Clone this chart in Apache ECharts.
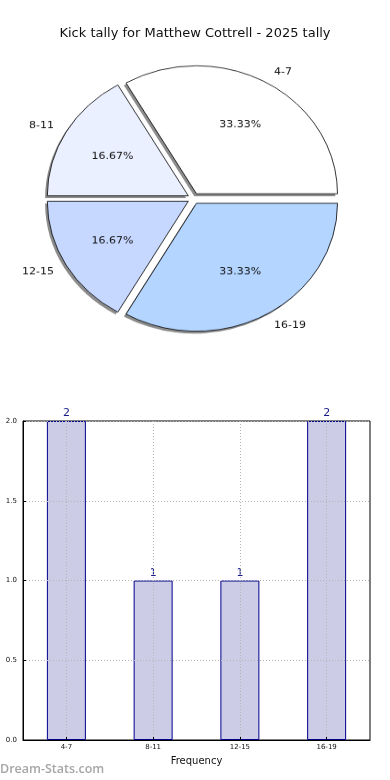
<!DOCTYPE html>
<html><head><meta charset="utf-8">
<script src="https://cdn.jsdelivr.net/npm/echarts@6/dist/echarts.min.js"></script>
<style>
html,body{margin:0;padding:0;background:#fff;}
#wrap{position:relative;width:390px;height:780px;}
#bar{position:absolute;left:0;top:0;width:390px;height:780px;}
#pie{position:absolute;left:0;top:0;width:390px;height:400px;transform-origin:193.5px 198.5px;transform:scaleY(0.908);}
</style>
</head><body>
<div id="wrap"><div id="bar"></div><div id="pie"></div></div>
<script>
const titleText = 'Kick tally for Matthew Cottrell - 2025 tally';
const categories = ['4-7', '8-11', '12-15', '16-19'];
const counts = [2, 1, 1, 2];
const pieColors = ['#ffffff', '#eaf0ff', '#c6d8ff', '#b3d5ff'];
const yTicks = [0, 0.5, 1.0, 1.5, 2.0];

const total = counts.reduce((a, b) => a + b, 0);
const font = 'DejaVu Sans';
const cx = 193.5, cy = 198.5, R = 141;

const mk = (withColor) => categories.map((c, i) => {
  const d = { name: c, value: counts[i], selected: true };
  if (withColor) d.itemStyle = { color: pieColors[i] };
  return d;
});
const common = {
  type: 'pie', startAngle: 0, clockwise: false,
  selectedMode: 'multiple', selectedOffset: 6,
  avoidLabelOverlap: false, silent: true,
  emphasis: { disabled: true },
  labelLine: { show: false }
};

const pie = echarts.init(document.getElementById('pie'), null, { renderer: 'canvas' });
pie.setOption({
  animation: false,
  series: [
    Object.assign({}, common, {
      // drop shadow
      center: [cx - 2.2, cy + 2.6], radius: [0, R], z: 1,
      itemStyle: { color: '#8c8c8c', borderWidth: 0 },
      label: { show: false },
      data: mk(false)
    }),
    Object.assign({}, common, {
      center: [cx, cy], radius: [0, R], z: 2,
      itemStyle: { borderColor: '#000', borderWidth: 0.8 },
      label: {
        show: true, position: 'outside', formatter: '{b}',
        fontFamily: font, fontSize: 11, color: '#111', distanceToLabelLine: 0
      },
      labelLine: { show: false, length: 14, length2: 0 },
      data: mk(true)
    }),
    Object.assign({}, common, {
      center: [cx, cy], radius: [28, R], z: 3,
      itemStyle: { color: 'rgba(0,0,0,0)', borderWidth: 0 },
      label: {
        show: true, position: 'inside',
        formatter: p => (p.value / total * 100).toFixed(2) + '%',
        fontFamily: font, fontSize: 11, color: '#111'
      },
      data: mk(false)
    })
  ]
});

const bar = echarts.init(document.getElementById('bar'), null, { renderer: 'canvas' });
bar.setOption({
  animation: false,
  title: {
    text: titleText, left: 'center', top: 22,
    textStyle: { fontFamily: font, fontSize: 13, fontWeight: 'normal', color: '#111' }
  },
  graphic: [{
    type: 'text', left: 0, top: 763,
    style: { text: 'Dream-Stats.com', fontFamily: 'Open Sans', fontSize: 12.5, fontWeight: 600, fill: '#a6a6a6' }
  }],
  grid: { left: 23, right: 20, top: 421, bottom: 40, show: true, borderColor: '#000', borderWidth: 1 },
  xAxis: {
    type: 'category', data: categories, z: 3,
    name: 'Frequency', nameLocation: 'middle', nameGap: 16,
    nameTextStyle: { fontFamily: font, fontSize: 10, color: '#111' },
    axisLine: { lineStyle: { color: '#000' } },
    axisTick: { show: true, alignWithLabel: true, inside: true, length: 3, lineStyle: { color: '#000' } },
    axisLabel: { fontFamily: font, fontSize: 7, color: '#111', margin: 4 },
    splitLine: { show: true, alignWithLabel: true, lineStyle: { color: '#b4b4b4', type: [1, 2] } }
  },
  yAxis: {
    type: 'value', min: 0, max: 2, interval: 0.5, z: 3,
    axisLine: { show: true, lineStyle: { color: '#000' } },
    axisTick: { show: true, inside: true, length: 3, lineStyle: { color: '#000' } },
    axisLabel: { fontFamily: font, fontSize: 7, color: '#111', margin: 6,
      formatter: v => v.toFixed(1) },
    splitLine: { show: true, lineStyle: { color: '#b4b4b4', type: [1, 2] } }
  },
  series: [{
    type: 'bar', data: counts, barWidth: 39,
    itemStyle: { color: '#ccccE6', borderColor: '#00008b', borderWidth: 1 },
    label: { show: true, position: 'top', distance: 2, fontFamily: font, fontSize: 11, color: '#1a1a8c' },
    silent: true
  }]
});
</script>
</body></html>
